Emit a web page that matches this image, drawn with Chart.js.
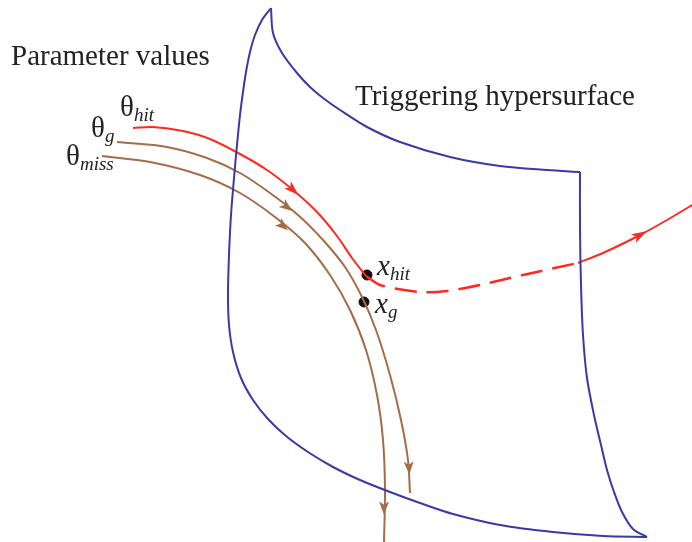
<!DOCTYPE html>
<html>
<head>
<meta charset="utf-8">
<script src="https://cdn.jsdelivr.net/npm/chart.js@4.4.1/dist/chart.umd.min.js"></script>
<style>
  html, body { margin: 0; padding: 0; background: #fff; }
  #wrap { position: relative; width: 692px; height: 542px; overflow: hidden; }
  canvas { position: absolute; left: 0; top: 0; }
  .lbl {
    position: absolute;
    font-family: "Liberation Serif", "Times New Roman", serif;
    font-size: 29px;
    line-height: 29px;
    color: #222;
    white-space: nowrap;
  }
  .lbl i { font-style: italic; }
  .lbl sub { font-style: italic; font-size: 19px; vertical-align: -5px; line-height: 0; }
</style>
</head>
<body>
<div id="wrap">
  <canvas id="chartCanvas" width="692" height="542"></canvas>
  <div class="lbl" style="left:11px;top:41px">Parameter values</div>
  <div class="lbl" style="left:355px;top:81px">Triggering hypersurface</div>
  <div class="lbl" style="left:120px;top:92px">θ<sub>hit</sub></div>
  <div class="lbl" style="left:91px;top:113px">θ<sub>g</sub></div>
  <div class="lbl" style="left:66px;top:141px">θ<sub>miss</sub></div>
  <div class="lbl" style="left:377px;top:251px"><i>x</i><sub>hit</sub></div>
  <div class="lbl" style="left:375px;top:289px"><i>x</i><sub>g</sub></div>
</div>
<script>
// контур поверхні (три шматки, щоб кути лишались гострими)
const surfaceLeft = [
  [271, 8], [262, 20], [255, 35], [250, 52], [246, 72], [243, 92], [240, 115],
  [237, 145], [234, 178], [231, 215], [229, 255], [228, 295], [229, 325],
  [233, 352], [241, 378], [253, 400], [268, 419], [286, 436], [308, 452],
  [333, 467], [360, 480], [390, 492], [420, 503], [453, 514], [500, 525],
  [553, 532], [603, 536], [647, 537]
];
const surfaceTop = [
  [271, 8], [273, 33], [282, 53], [297, 73], [310, 87], [323, 98], [340, 110],
  [367, 127], [400, 142], [450, 157], [500, 166], [547, 170], [580, 172]
];
const surfaceRight = [
  [580, 172], [580, 230], [581, 285], [583, 335], [587, 378], [594, 415],
  [601, 445], [607, 470], [614, 492], [622, 512], [633, 529], [647, 537]
];

// траєкторії
const hitPath = [
  [133, 128], [153, 127], [183, 131], [210, 139], [240, 154], [267, 170],
  [293, 190], [317, 212], [337, 236], [352, 258], [366, 276]
];
const hitDashed = [
  [366, 276], [380, 285], [420, 292], [447, 291], [480, 285], [523, 275], [578, 263]
];
const hitTail = [
  [578, 263], [603, 253], [640, 235], [667, 220], [692, 205]
];
const gPath = [
  [117, 142], [167, 147], [207, 158], [240, 173], [270, 193], [298, 215],
  [323, 240], [345, 267], [362, 297], [376, 330], [390, 375], [401, 420],
  [408, 460], [410, 493]
];
const missPath = [
  [102, 156], [150, 162], [200, 175], [240, 193], [275, 217], [305, 243],
  [330, 275], [350, 310], [366, 350], [377, 395], [383, 440], [385, 490],
  [384, 542]
];

// точки перетину
const hitPoint = [[367, 275]];
const gPoint = [[364, 302]];

// наконечники стрілок
const arrowHit = [[293, 190], [640, 235]];
const arrowG = [[287, 207], [409, 468]];
const arrowMiss = [[283, 226], [384, 508]];

const BLUE = "#3a3aa6";
const RED = "#ff2a1f";
const BROWN = "#a56d47";

const toXY = (arr) => arr.map(([x, y]) => ({ x, y }));

function lineSet(points, color, extra) {
  return Object.assign({
    data: toXY(points),
    showLine: true,
    borderColor: color,
    backgroundColor: color,
    borderWidth: 2,
    pointRadius: 0,
    tension: 0.3,
    fill: false,
  }, extra || {});
}

// малюємо трикутні стрілки вздовж кривих
const arrowPlugin = {
  id: "arrows",
  afterDatasetsDraw(chart) {
    const { ctx, scales } = chart;
    const specs = [
      { path: hitPath.concat(hitTail), pts: arrowHit, color: RED, len: 15, w: 10 },
      { path: gPath, pts: arrowG, color: BROWN, len: 13, w: 10 },
      { path: missPath, pts: arrowMiss, color: BROWN, len: 13, w: 10 },
    ];
    specs.forEach((s) => {
      s.pts.forEach(([ax, ay]) => {
        // знаходимо найближчий відрізок, щоб узяти напрям
        let best = 0, bestD = Infinity;
        for (let i = 0; i < s.path.length - 1; i++) {
          const mx = (s.path[i][0] + s.path[i + 1][0]) / 2;
          const my = (s.path[i][1] + s.path[i + 1][1]) / 2;
          const d = (mx - ax) ** 2 + (my - ay) ** 2;
          if (d < bestD) { bestD = d; best = i; }
        }
        const p0 = s.path[best], p1 = s.path[best + 1];
        const x0 = scales.x.getPixelForValue(p0[0]);
        const y0 = scales.y.getPixelForValue(p0[1]);
        const x1 = scales.x.getPixelForValue(p1[0]);
        const y1 = scales.y.getPixelForValue(p1[1]);
        const ang = Math.atan2(y1 - y0, x1 - x0);
        const cx = scales.x.getPixelForValue(ax);
        const cy = scales.y.getPixelForValue(ay);
        ctx.save();
        ctx.translate(cx, cy);
        ctx.rotate(ang);
        ctx.fillStyle = s.color;
        ctx.beginPath();
        ctx.moveTo(s.len / 2, 0);
        ctx.lineTo(-s.len / 2, -s.w / 2);
        ctx.lineTo(-s.len / 4, 0);
        ctx.lineTo(-s.len / 2, s.w / 2);
        ctx.closePath();
        ctx.fill();
        ctx.restore();
      });
    });
  },
};

const ctx = document.getElementById("chartCanvas").getContext("2d");
window.myChart = new Chart(ctx, {
  type: "scatter",
  data: {
    datasets: [
      lineSet(surfaceLeft, BLUE),
      lineSet(surfaceTop, BLUE),
      lineSet(surfaceRight, BLUE),
      lineSet(missPath, BROWN),
      lineSet(gPath, BROWN),
      lineSet(hitPath, RED),
      lineSet(hitDashed, RED, { borderWidth: 2.5, borderDash: [22, 10] }),
      lineSet(hitTail, RED),
      {
        data: toXY(hitPoint.concat(gPoint)),
        pointRadius: 5,
        backgroundColor: "#111",
        borderColor: "#111",
        showLine: false,
      },
    ],
  },
  options: {
    responsive: false,
    animation: false,
    events: [],
    layout: { padding: 0, autoPadding: false },
    plugins: { legend: { display: false }, tooltip: { enabled: false } },
    scales: {
      x: { type: "linear", min: 0, max: 692, display: false },
      y: { type: "linear", min: 0, max: 542, reverse: true, display: false },
    },
  },
  plugins: [arrowPlugin],
});
</script>
</body>
</html>
